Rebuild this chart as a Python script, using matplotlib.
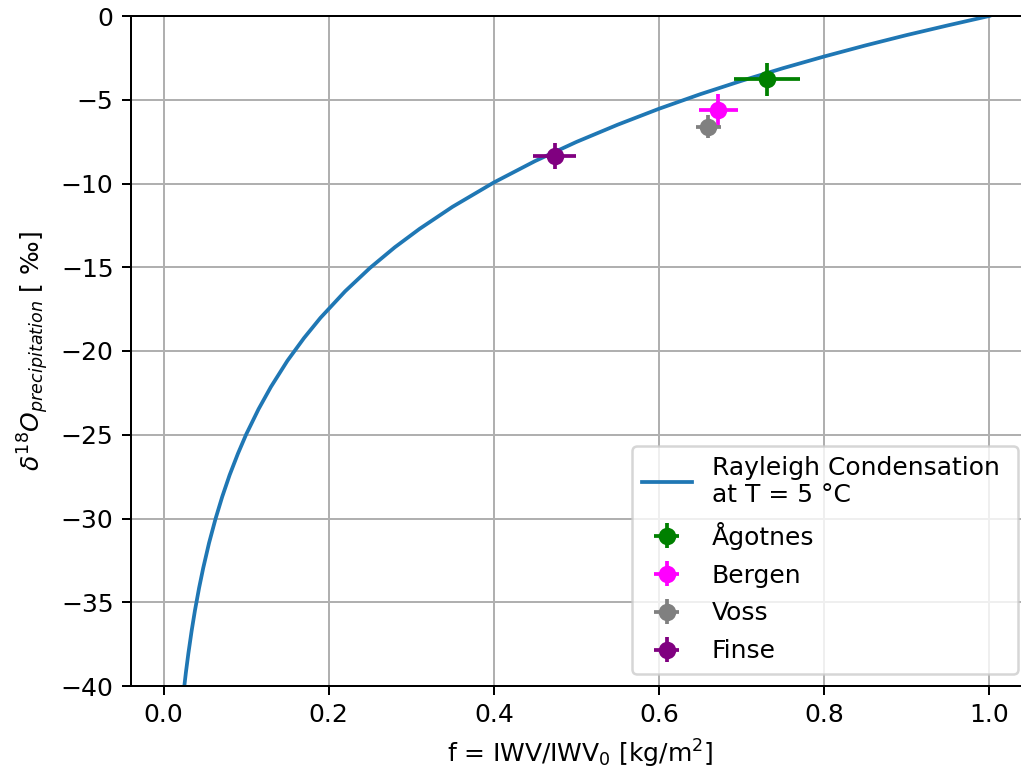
import numpy as np
import matplotlib
matplotlib.use("Agg")
import matplotlib.pyplot as plt

# Rayleigh condensation curve at T = 5 degC (fraction remaining vs d18O of precipitation)
rayleigh_f = [0.024, 0.027, 0.030, 0.034, 0.038, 0.043, 0.048, 0.055, 0.063,
              0.071, 0.080, 0.090, 0.100, 0.115, 0.130, 0.150, 0.170, 0.190,
              0.220, 0.250, 0.280, 0.310, 0.350, 0.400, 0.450, 0.500, 0.550,
              0.600, 0.650, 0.700, 0.750, 0.800, 0.850, 0.900, 0.950, 1.000]
rayleigh_d18o = [-40.47, -39.19, -38.05, -36.69, -35.48, -34.14, -32.95, -31.47,
                 -30.00, -28.70, -27.40, -26.13, -24.98, -23.47, -22.14, -20.58,
                 -19.23, -18.02, -16.43, -15.04, -13.81, -12.71, -11.39, -9.94,
                 -8.66, -7.52, -6.49, -5.54, -4.67, -3.87, -3.12, -2.42, -1.76,
                 -1.14, -0.56, 0.0]

# station observations
stations = ['Ågotnes', 'Bergen', 'Voss', 'Finse']
colors = ['green', 'magenta', 'gray', 'purple']
f_obs = [0.731, 0.672, 0.660, 0.474]
f_err = [0.040, 0.024, 0.015, 0.026]
d18o_obs = [-3.78, -5.61, -6.61, -8.36]
d18o_err = [1.0, 0.95, 0.69, 0.75]

fig = plt.figure(figsize=(1021 / 180, 775 / 180), dpi=180)
ax = fig.add_axes([131 / 1021, 89 / 775, 899 / 1021, 670 / 775])

ax.plot(rayleigh_f, rayleigh_d18o, label='Rayleigh Condensation \nat T = 5 °C')
for name, c, x, xe, y, ye in zip(stations, colors, f_obs, f_err, d18o_obs, d18o_err):
    ax.errorbar(x, y, xerr=xe, yerr=ye, fmt='o', color=c, label=name)

ax.set_xlim(-0.0395, 1.0495)
ax.set_ylim(-40, 0)
ax.set_xticks(np.arange(0, 1.01, 0.2))
ax.set_yticks(np.arange(-40, 1, 5))
ax.grid(True)
ax.set_xlabel('f = IWV/IWV$_0$ [kg/m$^2$]')
ax.set_ylabel(r'$\delta^{18}O_{precipitation}$ [ ‰]')
ax.legend(loc='lower right', labelspacing=0.56)

fig.savefig('out.png', dpi=180)
